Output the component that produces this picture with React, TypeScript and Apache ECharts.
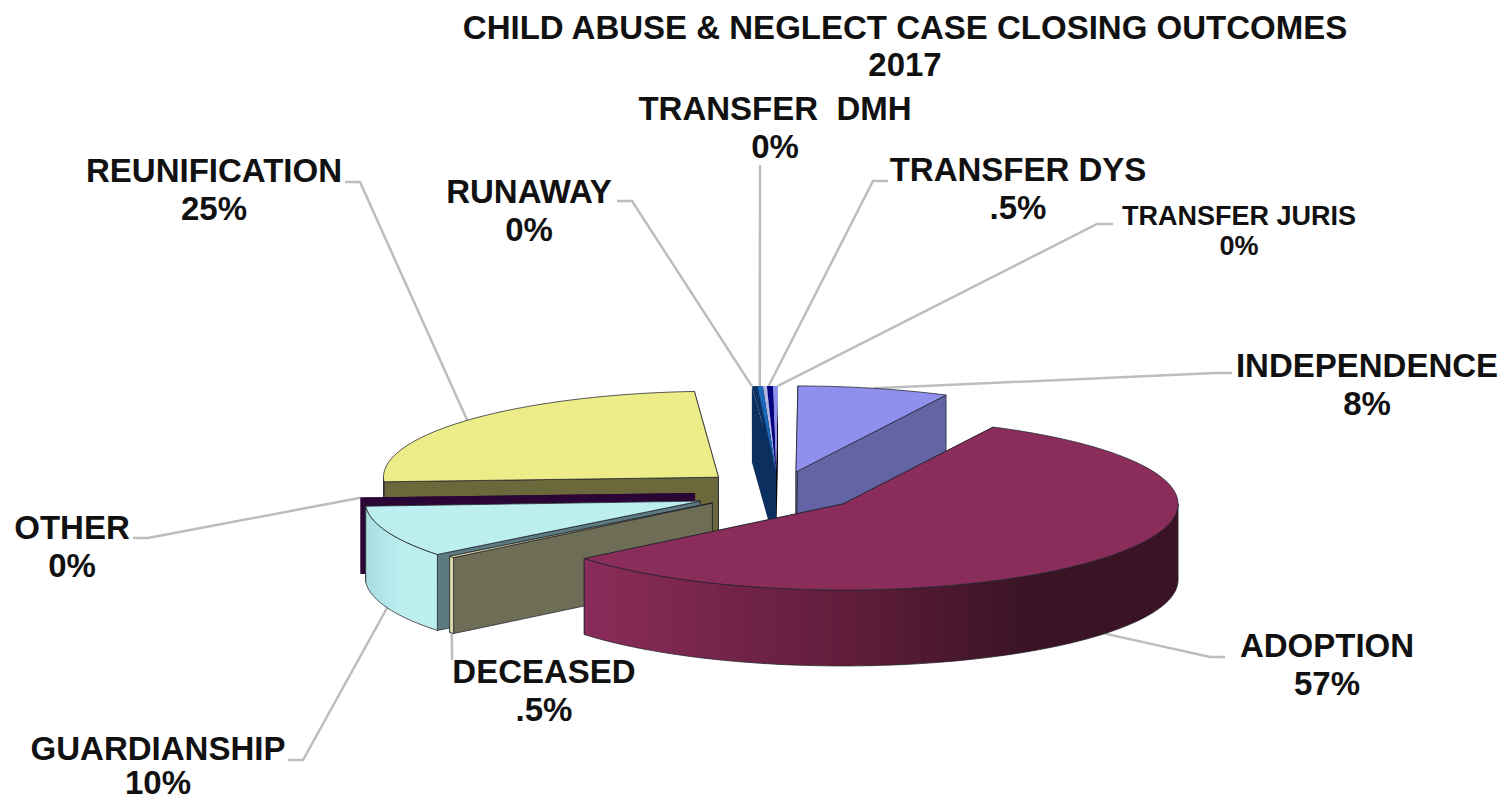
import React, { useEffect, useRef } from "react";
import * as echarts from "echarts";

const categories = ["INDEPENDENCE", "ADOPTION", "DECEASED", "GUARDIANSHIP", "OTHER", "REUNIFICATION", "RUNAWAY", "TRANSFER  DMH", "TRANSFER DYS", "TRANSFER JURIS"];
const shareValues = [7.3, 56.65, 0.3, 9.7, 0.1, 24.7, 0.52, 0.19, 0.29, 0.24];
const shownLabels = ["8%", "57%", ".5%", "10%", "0%", "25%", "0%", "0%", ".5%", "0%"];
const titleLines = ["CHILD ABUSE & NEGLECT CASE CLOSING OUTCOMES", "2017"];

const FONT = '"Liberation Sans", Arial, sans-serif';
const W = 1501, H = 799;
const CX = 775, CY = 490, RX = 335, RY = 86, DEPTH = 76;
const START_ANGLE = 0.34;
const rad = (d: number) => (d * Math.PI) / 180;

const grad = (stops: [number, string][]) =>
  new echarts.graphic.LinearGradient(0, 0, 1, 0, stops.map(([offset, color]) => ({ offset, color })));

// style of each slice (same order as categories); layer = paint order
const sliceStyles: any[] = [
  { layer: 1, pull: 0.219, pullAngle: 16.6, top: "#8f90ee", start: "#6264a4", end: "#6264a4", wall: "#6264a4", line: true },
  { layer: 7, pull: 0.26, top: "#8b2d5b", start: "#5f1d3a", end: "#5f1d3a", line: true,
    wall: () => grad([[0, "#8b2c5a"], [0.45, "#5f1d3a"], [0.75, "#3a1325"], [1, "#3a1325"]]) },
  { layer: 6, pull: 0.24, top: "#dcdca8", start: "#6e6d55", end: "#6e6d55", wall: "#dcdca8", line: true },
  { layer: 5, pull: 0.258, pullAngle: 240, top: "#bdeef0", start: "#5c7b80", end: "#5c7b80", line: true,
    wall: () => grad([[0, "#a9dde2"], [0.5, "#bdeef0"], [1, "#bdeef0"]]) },
  { layer: 4, pull: 0.241, pullAngle: 262, top: "#2b0536", start: "#2b0536", end: "#2b0536", wall: "#2b0536", line: false },
  { layer: 3, pull: 0.225, top: "#ecec88", start: "#6b693b", end: "#6b693b", wall: "#6b693b", line: true },
  { layer: 2.4, pull: 0.21, pullAngle: 0.8, top: "#0b2f5e", inner: "#1a68b8", start: "#0b2f5e", end: "#0b2f5e", wall: "#0b2f5e", line: false, anchorFrac: 0 },
  { layer: 2.3, pull: 0.21, pullAngle: 0.8, top: "#b5b5e8", start: "#0b2f5e", end: "#0b2f5e", wall: "#0b2f5e", line: false, anchorFrac: -0.76 },
  { layer: 2.2, pull: 0.21, pullAngle: 0.8, top: "#000080", start: "#0b2f5e", end: "#0b2f5e", wall: "#0b2f5e", line: false, anchorFrac: 0.3 },
  { layer: 2.1, pull: 0.21, pullAngle: 0.8, top: "#8f90ee", start: "#050510", end: "#050510", wall: "#050510", line: false, anchorFrac: 1 },
];

// label block centre, font size, line height, elbow of the leader line and its end at the text
const labelLayout: any[] = [
  { x: 1367, y: 384, size: 33, lh: 38, elbow: [1215, 373], tail: [1232, 373] },
  { x: 1327, y: 664, size: 33, lh: 38, elbow: [1210, 657], tail: [1225, 657] },
  { x: 544, y: 690, size: 33, lh: 38, elbow: [452, 650], tail: [452, 660] },
  { x: 158, y: 765, size: 33, lh: 34, elbow: [303, 760], tail: [288, 760] },
  { x: 72, y: 546, size: 33, lh: 38, elbow: [148, 538], tail: [133, 538] },
  { x: 214, y: 189, size: 33, lh: 38, elbow: [360, 182], tail: [345, 182] },
  { x: 529, y: 210, size: 33, lh: 38, elbow: [632, 201], tail: [617, 201] },
  { x: 775, y: 127, size: 33, lh: 38, elbow: [760, 180], tail: [760, 165] },
  { x: 1018, y: 188, size: 33, lh: 38, elbow: [873, 181], tail: [888, 181] },
  { x: 1239, y: 231, size: 27, lh: 30, elbow: [1097, 224], tail: [1113, 224] },
];

const total = shareValues.reduce((a, b) => a + b, 0);
const rim = (ax: number, ay: number, t: number, dy = 0): number[] => [
  ax + RX * Math.sin(rad(t)),
  ay - RY * Math.cos(rad(t)) + dy,
];
const arc = (ax: number, ay: number, t0: number, t1: number, dy = 0) => {
  const n = Math.max(2, Math.ceil(Math.abs(t1 - t0) / 2));
  const pts: number[][] = [];
  for (let i = 0; i <= n; i++) pts.push(rim(ax, ay, t0 + ((t1 - t0) * i) / n, dy));
  return pts;
};

function renderSlice(params: any, api: any) {
  const i = params.dataIndex;
  const value = api.value(0);
  const before = shareValues.slice(0, i).reduce((a, b) => a + b, 0);
  const t0 = START_ANGLE + (before / total) * 360;
  const t1 = t0 + (value / total) * 360;
  const mid = (t0 + t1) / 2;
  const s = sliceStyles[i];
  const l = labelLayout[i];
  const pa = s.pullAngle ?? mid;
  const ax = CX + s.pull * RX * Math.sin(rad(pa));
  const ay = CY - s.pull * RY * Math.cos(rad(pa));
  const base = s.layer * 10;
  const outline = s.line ? { stroke: "rgba(35,35,45,0.75)", lineWidth: 1 } : { stroke: "none" };
  const children: any[] = [];
  const face = (t: number, fill: any, z: number) => {
    const a = rim(ax, ay, t);
    children.push({
      type: "polygon",
      shape: { points: [[ax, ay], a, [a[0], a[1] + DEPTH], [ax, ay + DEPTH]] },
      style: { fill, ...outline },
      z2: base + z,
    });
  };
  face(t1, s.end, 1);
  face(t0, s.start, 2);
  const w0 = Math.max(t0, 90), w1 = Math.min(t1, 270);
  if (w1 > w0) {
    const fill = typeof s.wall === "function" ? s.wall() : s.wall;
    children.push({
      type: "polygon",
      shape: { points: [...arc(ax, ay, w0, w1), ...arc(ax, ay, w1, w0, DEPTH)] },
      style: { fill, ...outline },
      z2: base + 3,
    });
  }
  children.push({
    type: "polygon",
    shape: { points: [[ax, ay], ...arc(ax, ay, t0, t1)] },
    style: { fill: s.top, ...outline },
    z2: base + 4,
  });
  if (s.inner) {
    children.push({
      type: "polygon",
      shape: { points: [[ax, ay], ...arc(ax, ay, (t0 + t1) / 2, t1)] },
      style: { fill: s.inner, stroke: "none" },
      z2: base + 5,
    });
  }
  const at = s.anchorFrac === undefined ? mid : t0 + (t1 - t0) * s.anchorFrac;
  const front = Math.cos(rad(at)) < -0.1;
  const anchor = rim(ax, ay, at, front ? DEPTH : 0);
  children.push({
    type: "polyline",
    shape: { points: [anchor, l.elbow, l.tail] },
    style: { fill: "none", stroke: "#bdbdbd", lineWidth: 2.5 },
    z2: 1,
  });
  children.push({
    type: "text",
    style: {
      text: `${categories[i]}\n${shownLabels[i]}`,
      x: l.x,
      y: l.y,
      align: "center",
      verticalAlign: "middle",
      fill: "#111111",
      font: `bold ${l.size}px ${FONT}`,
      lineHeight: l.lh,
    },
    z2: 200,
  });
  return { type: "group", children };
}

export default function App() {
  const ref = useRef<HTMLDivElement>(null);
  useEffect(() => {
    const chart = echarts.init(ref.current!, null, { renderer: "svg" });
    chart.setOption({
      animation: false,
      backgroundColor: "#ffffff",
      title: {
        text: titleLines.join("\n"),
        left: 900,
        top: 4,
        textAlign: "center",
        textStyle: { fontFamily: FONT, fontWeight: "bold", fontSize: 33, lineHeight: 37, color: "#111111" },
      },
      series: [
        {
          type: "custom",
          coordinateSystem: "none",
          silent: true,
          clip: false,
          data: shareValues.map((v) => [v]),
          renderItem: renderSlice,
        },
      ],
    });
    return () => chart.dispose();
  }, []);
  return <div ref={ref} style={{ position: "fixed", left: 0, top: 0, width: W, height: H }} />;
}
